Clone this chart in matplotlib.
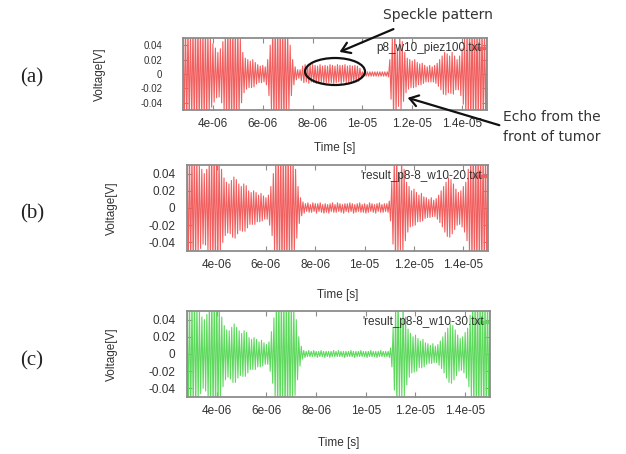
import numpy as np
import matplotlib
matplotlib.use("Agg")
import matplotlib.pyplot as plt
from matplotlib.patches import Ellipse, FancyArrowPatch

# ---------------- data: signed oscillation peaks, one per 0.05 us half cycle, 2.8 us .. 15.0 us ----
t_start_us = 2.8
half_period_us = 0.05

volt_a = [
    0.07, -0.072, 0.075, -0.073, 0.07, -0.068, 0.065, -0.067, 0.07, -0.072,
    0.075, -0.072, 0.07, -0.07, 0.07, -0.068, 0.065, -0.067, 0.07, -0.065,
    0.06, -0.055, 0.05, -0.046, 0.042, -0.039, 0.036, -0.033, 0.03, -0.032,
    0.035, -0.04, 0.045, -0.052, 0.06, -0.065, 0.07, -0.072, 0.075, -0.073,
    0.07, -0.07, 0.07, -0.068, 0.065, -0.058, 0.05, -0.04, 0.03, -0.026,
    0.022, -0.021, 0.02, -0.019, 0.018, -0.019, 0.02, -0.018, 0.016, -0.014,
    0.013, -0.012, 0.011, -0.012, 0.012, -0.011, 0.01, -0.015, 0.02, -0.03,
    0.04, -0.052, 0.065, -0.068, 0.07, -0.072, 0.075, -0.072, 0.07, -0.073,
    0.075, -0.072, 0.07, -0.065, 0.06, -0.05, 0.04, -0.03, 0.02, -0.015,
    0.01, -0.008, 0.006, -0.006, 0.006, -0.009, 0.011, -0.012, 0.013, -0.011,
    0.012, -0.013, 0.012, -0.011, 0.013, -0.012, 0.012, -0.013, 0.011, -0.012,
    0.013, -0.012, 0.011, -0.013, 0.012, -0.012, 0.011, -0.012, 0.013, -0.012,
    0.012, -0.013, 0.011, -0.012, 0.013, -0.011, 0.012, -0.013, 0.012, -0.011,
    0.013, -0.012, 0.011, -0.012, 0.012, -0.013, 0.011, -0.012, 0.012, -0.011,
    0.011, -0.01, 0.008, -0.005, 0.003, -0.003, 0.003, -0.003, 0.003, -0.003,
    0.003, -0.003, 0.003, -0.003, 0.003, -0.003, 0.003, -0.003, 0.003, -0.003,
    0.003, -0.003, 0.003, -0.003, 0.003, -0.004, 0.02, -0.035, 0.05, -0.06,
    0.07, -0.055, 0.035, -0.045, 0.055, -0.05, 0.045, -0.038, 0.03, -0.026,
    0.022, -0.021, 0.02, -0.019, 0.018, -0.019, 0.02, -0.018, 0.016, -0.015,
    0.014, -0.015, 0.015, -0.013, 0.012, -0.011, 0.01, -0.011, 0.012, -0.011,
    0.01, -0.011, 0.012, -0.013, 0.015, -0.017, 0.02, -0.022, 0.025, -0.028,
    0.03, -0.029, 0.028, -0.026, 0.025, -0.027, 0.03, -0.028, 0.025, -0.022,
    0.02, -0.022, 0.025, -0.03, 0.035, -0.042, 0.05, -0.058, 0.065, -0.068,
    0.07, -0.072, 0.075, -0.073, 0.07, -0.07, 0.07, -0.072, 0.075, -0.073,
    0.07, -0.068, 0.065, -0.068, 0.07,
]

volt_b = [
    0.07, -0.072, 0.07, -0.068, 0.065, -0.067, 0.07, -0.065, 0.06, -0.055,
    0.05, -0.047, 0.045, -0.042, 0.04, -0.043, 0.045, -0.05, 0.055, -0.062,
    0.07, -0.072, 0.075, -0.073, 0.07, -0.065, 0.06, -0.052, 0.045, -0.04,
    0.035, -0.032, 0.03, -0.029, 0.028, -0.03, 0.032, -0.034, 0.036, -0.035,
    0.033, -0.03, 0.028, -0.026, 0.025, -0.027, 0.028, -0.027, 0.026, -0.023,
    0.02, -0.019, 0.018, -0.019, 0.02, -0.019, 0.018, -0.016, 0.015, -0.016,
    0.017, -0.015, 0.014, -0.013, 0.012, -0.013, 0.015, -0.02, 0.025, -0.032,
    0.04, -0.05, 0.06, -0.065, 0.07, -0.072, 0.075, -0.072, 0.07, -0.073,
    0.075, -0.072, 0.07, -0.068, 0.065, -0.062, 0.06, -0.052, 0.045, -0.035,
    0.025, -0.018, 0.012, -0.009, 0.007, -0.006, 0.005, -0.004, 0.006, -0.005,
    0.004, -0.005, 0.006, -0.004, 0.005, -0.006, 0.005, -0.004, 0.006, -0.005,
    0.004, -0.006, 0.005, -0.005, 0.004, -0.006, 0.005, -0.004, 0.006, -0.005,
    0.004, -0.005, 0.006, -0.004, 0.005, -0.005, 0.004, -0.006, 0.005, -0.004,
    0.005, -0.005, 0.006, -0.004, 0.005, -0.006, 0.004, -0.005, 0.005, -0.004,
    0.006, -0.005, 0.004, -0.005, 0.005, -0.006, 0.004, -0.005, 0.006, -0.004,
    0.005, -0.005, 0.004, -0.006, 0.005, -0.004, 0.006, -0.005, 0.004, -0.005,
    0.005, -0.004, 0.005, -0.005, 0.008, -0.015, 0.03, -0.042, 0.055, -0.062,
    0.07, -0.055, 0.04, -0.05, 0.06, -0.052, 0.045, -0.038, 0.03, -0.028,
    0.025, -0.022, 0.02, -0.021, 0.022, -0.02, 0.018, -0.016, 0.015, -0.016,
    0.017, -0.015, 0.013, -0.012, 0.012, -0.011, 0.01, -0.011, 0.012, -0.01,
    0.009, -0.01, 0.011, -0.013, 0.015, -0.017, 0.02, -0.022, 0.025, -0.028,
    0.03, -0.033, 0.035, -0.034, 0.033, -0.03, 0.028, -0.025, 0.022, -0.02,
    0.018, -0.019, 0.02, -0.022, 0.025, -0.028, 0.03, -0.038, 0.045, -0.052,
    0.06, -0.065, 0.07, -0.072, 0.075, -0.073, 0.07, -0.072, 0.075, -0.073,
    0.07, -0.07, 0.07, -0.068, 0.065,
]

volt_c = [
    0.07, -0.072, 0.068, -0.07, 0.065, -0.067, 0.07, -0.066, 0.06, -0.055,
    0.05, -0.046, 0.043, -0.04, 0.04, -0.043, 0.046, -0.052, 0.058, -0.064,
    0.07, -0.072, 0.075, -0.073, 0.07, -0.064, 0.058, -0.05, 0.043, -0.038,
    0.033, -0.03, 0.028, -0.027, 0.027, -0.029, 0.031, -0.033, 0.035, -0.033,
    0.031, -0.028, 0.027, -0.025, 0.024, -0.026, 0.027, -0.026, 0.025, -0.022,
    0.019, -0.018, 0.017, -0.018, 0.019, -0.018, 0.017, -0.015, 0.014, -0.015,
    0.016, -0.014, 0.013, -0.012, 0.011, -0.012, 0.014, -0.02, 0.026, -0.034,
    0.042, -0.052, 0.062, -0.066, 0.07, -0.072, 0.075, -0.072, 0.07, -0.073,
    0.075, -0.072, 0.07, -0.068, 0.065, -0.06, 0.055, -0.048, 0.04, -0.03,
    0.02, -0.014, 0.009, -0.006, 0.004, -0.004, 0.003, -0.003, 0.004, -0.003,
    0.003, -0.003, 0.004, -0.003, 0.003, -0.004, 0.003, -0.003, 0.004, -0.003,
    0.003, -0.004, 0.003, -0.003, 0.003, -0.004, 0.003, -0.003, 0.004, -0.003,
    0.003, -0.003, 0.004, -0.003, 0.003, -0.003, 0.003, -0.004, 0.003, -0.003,
    0.003, -0.003, 0.004, -0.003, 0.003, -0.004, 0.003, -0.003, 0.003, -0.003,
    0.004, -0.003, 0.003, -0.003, 0.003, -0.004, 0.003, -0.003, 0.004, -0.003,
    0.003, -0.003, 0.003, -0.004, 0.003, -0.003, 0.004, -0.003, 0.003, -0.003,
    0.003, -0.003, 0.003, -0.004, 0.007, -0.015, 0.03, -0.042, 0.055, -0.062,
    0.07, -0.056, 0.042, -0.05, 0.06, -0.05, 0.043, -0.036, 0.029, -0.027,
    0.024, -0.022, 0.02, -0.021, 0.022, -0.02, 0.018, -0.016, 0.015, -0.016,
    0.017, -0.015, 0.013, -0.012, 0.012, -0.011, 0.01, -0.011, 0.012, -0.01,
    0.009, -0.01, 0.011, -0.013, 0.015, -0.017, 0.02, -0.022, 0.025, -0.028,
    0.03, -0.033, 0.035, -0.034, 0.033, -0.03, 0.028, -0.025, 0.022, -0.02,
    0.018, -0.019, 0.02, -0.022, 0.025, -0.028, 0.03, -0.038, 0.045, -0.052,
    0.06, -0.065, 0.07, -0.072, 0.075, -0.073, 0.07, -0.072, 0.075, -0.073,
    0.07, -0.07, 0.07, -0.068, 0.065,
]

x_limits = (2.8e-6, 1.5e-5)
y_limits = (-0.05, 0.05)
x_ticks = [4e-6, 6e-6, 8e-6, 1e-5, 1.2e-5, 1.4e-5]
x_tick_labels = ["4e-06", "6e-06", "8e-06", "1e-05", "1.2e-05", "1.4e-05"]
y_ticks = [-0.04, -0.02, 0.0, 0.02, 0.04]
y_tick_labels = ["-0.04", "-0.02", "0", "0.02", "0.04"]

panel_names = ["(a)", "(b)", "(c)"]
key_texts = ["p8_w10_piez100.txt", "'result_p8-8_w10-20.txt", "'result_p8-8_w10-30.txt"]
series = [volt_a, volt_b, volt_c]
colors = ["#f25f5f", "#f25f5f", "#5ed95e"]

# ---------------- layout (pixels) ----------------
W, H = 626, 454
fig = plt.figure(figsize=(W / 100, H / 100), dpi=100)
fig.patch.set_facecolor("white")


def fx(x):
    return x / W


def fy(y):
    return 1 - y / H


boxes = [(183, 38, 487, 110), (187, 165, 488, 251), (187, 311, 490, 397)]
panel_label_y = [78, 214, 361]
time_label_y = [148, 295, 443]
volt_label_x = [100, 112, 112]
key_y = [48, 176, 322]
ylab_pad = [15, 8.5, 8.5]

tick_font = ["Liberation Sans", "DejaVu Sans"]
frame_gray = "#8c8c8c"
text_col = "#333333"

for k in range(3):
    x0, y0, x1, y1 = boxes[k]
    ax = fig.add_axes([fx(x0), fy(y1), (x1 - x0) / W, (y1 - y0) / H])
    vals = np.array(series[k])
    t = (t_start_us + half_period_us * np.arange(len(vals))) * 1e-6
    ax.plot(t, vals, color=colors[k], lw=0.8)
    ax.set_xlim(*x_limits)
    ax.set_ylim(*y_limits)
    ax.set_xticks(x_ticks)
    ax.set_xticklabels(x_tick_labels, fontsize=8.5, family=tick_font, color=text_col)
    ax.set_yticks(y_ticks)
    if k == 0:
        ax.set_yticklabels(y_tick_labels, fontsize=7,
                           family=["Liberation Sans Narrow", "Liberation Sans"], color=text_col)
    else:
        ax.set_yticklabels(y_tick_labels, fontsize=8.5, family=tick_font, color=text_col)
    ax.tick_params(axis="both", direction="in", length=3.5, width=0.8, color=frame_gray,
                   top=True, right=True)
    ax.tick_params(axis="x", pad=6)
    ax.tick_params(axis="y", pad=ylab_pad[k])
    for s in ax.spines.values():
        s.set_color(frame_gray)
        s.set_linewidth(1.3)

    # key entry (text + short line sample)
    fig.text(fx(x1 - 6), fy(key_y[k]), key_texts[k], ha="right", va="center",
             fontsize=8.5, family=tick_font, color=text_col)
    ky = 0.86 if k == 0 else 0.875
    ax.plot([0.955, 0.99], [ky, ky], transform=ax.transAxes, color=colors[k], lw=2.5)

    # axis labels
    fig.text(fx((x0 + x1) / 2), fy(time_label_y[k]), "Time [s]", ha="center", va="center",
             fontsize=8.5, family=tick_font, color=text_col)
    fig.text(fx(volt_label_x[k]), fy((y0 + y1) / 2), "Voltage[V]", ha="center", va="center",
             rotation=90, fontsize=8.5, family=tick_font, color=text_col)

    # panel letter
    fig.text(fx(32), fy(panel_label_y[k]), panel_names[k], ha="center", va="center",
             fontsize=15, family=["Liberation Serif", "DejaVu Serif"], color="#222222")

# ---------------- annotations on panel (a) ----------------
ann_font = ["DejaVu Sans"]
fig.text(fx(438), fy(15), "Speckle pattern", ha="center", va="center", fontsize=10,
         family=ann_font, color=text_col)
fig.text(fx(503), fy(117), "Echo from the", ha="left", va="center", fontsize=10,
         family=ann_font, color=text_col)
fig.text(fx(503), fy(137), "front of tumor", ha="left", va="center", fontsize=10,
         family=ann_font, color=text_col)

fig.patches.append(Ellipse((fx(335), fy(71.5)), width=60 / W, height=27 / H,
                           transform=fig.transFigure, fill=False, edgecolor="#111111", lw=1.6))
fig.patches.append(FancyArrowPatch(
    (fx(396), fy(28)), (fx(337), fy(53)), transform=fig.transFigure,
    arrowstyle="->,head_length=6,head_width=4", color="#111111", lw=1.6))
fig.patches.append(FancyArrowPatch(
    (fx(502), fy(126)), (fx(405), fy(97)), transform=fig.transFigure,
    arrowstyle="->,head_length=6,head_width=4", color="#111111", lw=1.6))

fig.savefig("out.png", dpi=100, facecolor="white")
